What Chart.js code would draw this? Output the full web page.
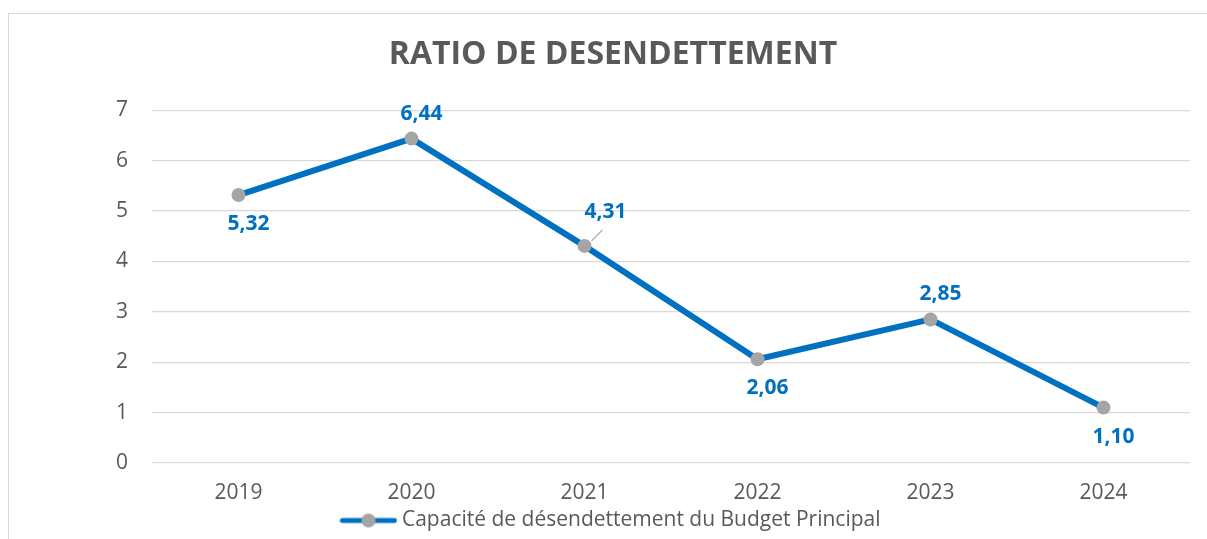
<!DOCTYPE html>
<html>
<head>
<meta charset="utf-8">
<script src="https://cdn.jsdelivr.net/npm/chart.js@4"></script>
<style>
    html, body { margin: 0; padding: 0; background: #fff; overflow: hidden; }
    #wrap { position: relative; width: 1207px; height: 539px; overflow: hidden; }
    #frame { position: absolute; left: 8px; top: 13px; width: 1220px; height: 560px; border: 1px solid #d9d9d9; }
    #ratioChart { position: absolute; left: 0; top: 2px; }
</style>
</head>
<body>
<div id="wrap">
    <div id="frame"></div>
    <canvas id="ratioChart" width="1207" height="539"></canvas>
</div>
<script>
const years = ['2019', '2020', '2021', '2022', '2023', '2024'];
const ratio = [5.32, 6.44, 4.31, 2.06, 2.85, 1.10];
const seriesName = 'Capacité de désendettement du Budget Principal';
const chartTitle = 'RATIO DE DESENDETTEMENT';

const BLUE = '#0070C0';
const GREY = '#A5A5A5';
const TEXT = '#595959';
const FONT = "'Open Sans', sans-serif";

// where each value label sits relative to its point
const labelPlacement = ['below', 'above', 'aboveRight', 'below', 'above', 'below'];

// legend icon: thick line with the marker in the middle
const legendIcon = document.createElement('canvas');
legendIcon.width = 58;
legendIcon.height = 16;
(function () {
    const c = legendIcon.getContext('2d');
    c.strokeStyle = BLUE;
    c.lineWidth = 5;
    c.lineCap = 'round';
    c.beginPath();
    c.moveTo(3, 8);
    c.lineTo(55, 8);
    c.stroke();
    c.fillStyle = GREY;
    c.beginPath();
    c.arc(29, 8, 7, 0, Math.PI * 2);
    c.fill();
})();

const valueLabels = {
    id: 'valueLabels',
    afterDatasetsDraw(chart) {
        const ctx = chart.ctx;
        const meta = chart.getDatasetMeta(0);
        ctx.save();
        ctx.font = "bold 21px " + FONT;
        ctx.fillStyle = BLUE;
        ctx.textAlign = 'center';
        ctx.textBaseline = 'middle';
        meta.data.forEach((pt, i) => {
            const txt = ratio[i].toFixed(2).replace('.', ',');
            const where = labelPlacement[i];
            let x = pt.x + 10, y = pt.y;
            if (where === 'below') y += 29;
            else if (where === 'above') y -= 25;
            else {
                x = pt.x + 21;
                y = pt.y - 34;
                ctx.strokeStyle = GREY;
                ctx.lineWidth = 1.2;
                ctx.beginPath();
                ctx.moveTo(pt.x + 7, pt.y - 5);
                ctx.lineTo(pt.x + 18, pt.y - 16);
                ctx.stroke();
            }
            ctx.fillText(txt, x, y);
        });
        ctx.restore();
    }
};

const ctx = document.getElementById('ratioChart').getContext('2d');
const chart = new Chart(ctx, {
    type: 'line',
    data: {
        labels: years,
        datasets: [
            {
                label: seriesName,
                data: ratio,
                borderColor: BLUE,
                backgroundColor: GREY,
                borderWidth: 6,
                pointRadius: 7,
                pointHoverRadius: 7,
                pointBackgroundColor: GREY,
                pointBorderColor: GREY,
                pointBorderWidth: 0,
                pointStyle: 'circle',
                tension: 0
            }
        ]
    },
    options: {
        responsive: false,
        animation: false,
        events: [],
        layout: {
            padding: { left: 36, right: 17, top: 0, bottom: 0 }
        },
        scales: {
            x: {
                offset: true,
                grid: { display: false, drawTicks: false },
                border: { display: false },
                ticks: {
                    color: TEXT,
                    font: { family: FONT, size: 21 },
                    padding: 17
                },
                afterFit(scale) { scale.height = 42; }
            },
            y: {
                min: 0,
                max: 7,
                ticks: {
                    stepSize: 1,
                    color: TEXT,
                    font: { family: FONT, size: 21 },
                    padding: 24
                },
                grid: { color: '#d9d9d9', lineWidth: 1.3, drawTicks: false },
                border: { display: false },
                afterFit(scale) { scale.width = 116; }
            }
        },
        plugins: {
            title: {
                display: true,
                text: chartTitle,
                color: TEXT,
                font: { family: FONT, size: 32, weight: 'bold' },
                padding: { top: 34, bottom: 36 }
            },
            legend: {
                position: 'bottom',
                labels: {
                    usePointStyle: true,
                    pointStyleWidth: 46,
                    color: TEXT,
                    font: { family: FONT, size: 21 },
                    padding: 5,
                    generateLabels(chart) {
                        return [{
                            text: seriesName,
                            pointStyle: legendIcon,
                            fillStyle: GREY,
                            strokeStyle: BLUE,
                            lineWidth: 0,
                            fontColor: TEXT,
                            datasetIndex: 0
                        }];
                    }
                }
            },
            tooltip: { enabled: false }
        }
    },
    plugins: [valueLabels]
});
</script>
</body>
</html>
